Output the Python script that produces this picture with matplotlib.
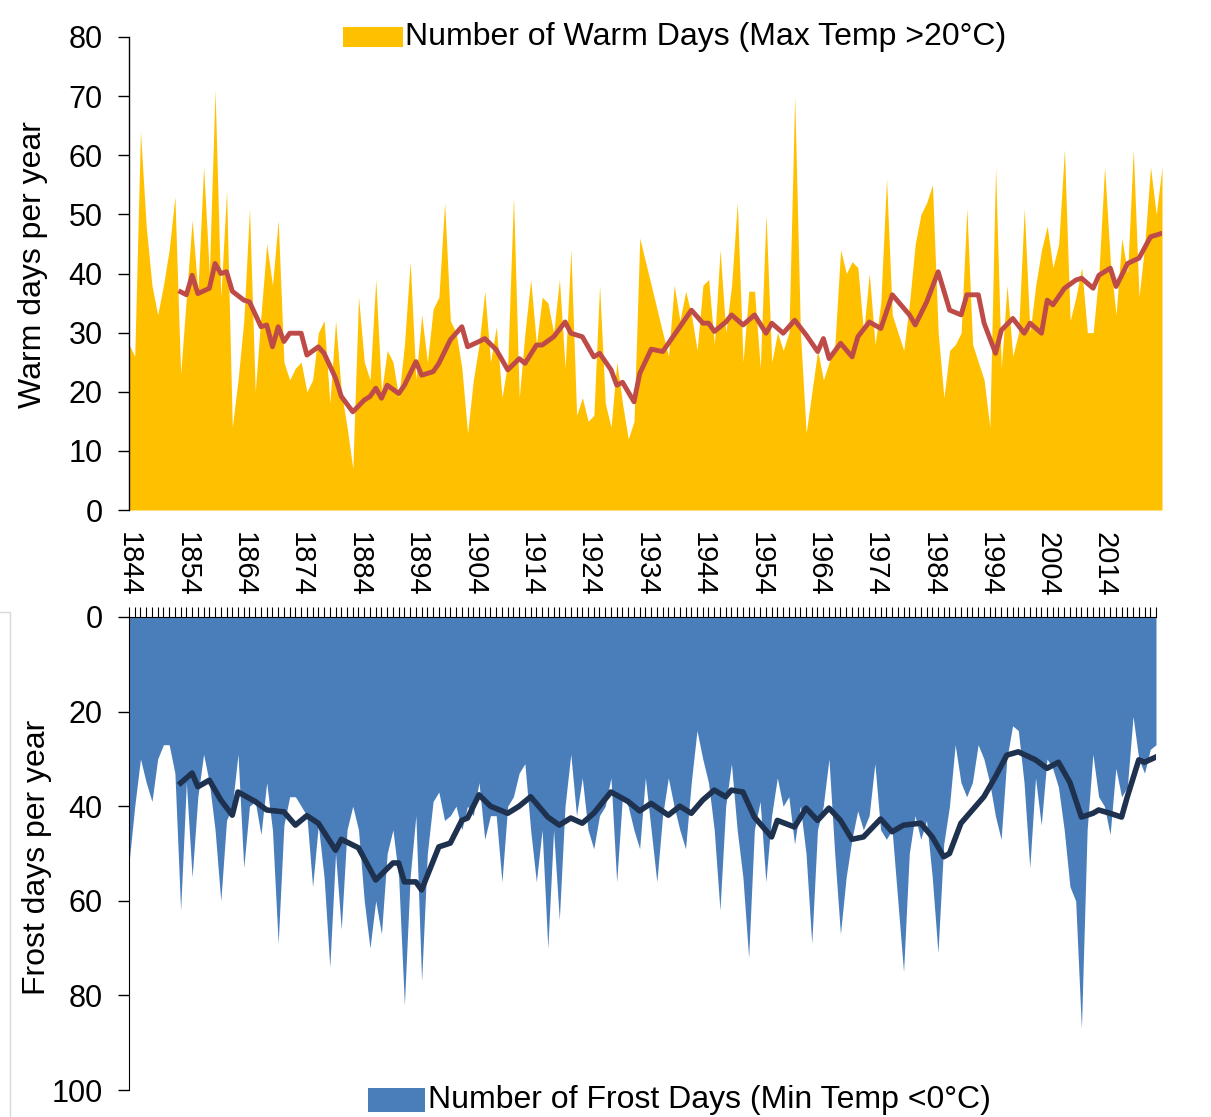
import numpy as np
import matplotlib.pyplot as plt
from matplotlib.patches import Rectangle
from matplotlib.lines import Line2D

plt.rcParams['font.family'] = ['Liberation Sans', 'DejaVu Sans']

first_year = 1844

# warm days per year (max temp > 20C), 1844-2024
warm_days = [28, 26, 64, 48, 38, 33, 38, 44, 53, 23,
             36, 49, 37, 58, 40, 71, 36, 54, 14, 22,
             32, 51, 20, 33, 45, 38, 49, 25, 22, 24,
             25, 20, 22, 30, 32, 18, 32, 20, 14, 7,
             36, 25, 22, 39, 20, 27, 25, 19, 28, 42,
             22, 33, 25, 34, 36, 52, 32, 30, 24, 13,
             22, 28, 37, 25, 31, 19, 25, 53, 19, 30,
             39, 28, 36, 35, 30, 39, 24, 44, 16, 19,
             15, 16, 38, 18, 14, 25, 18, 12, 15, 46,
             42, 38, 34, 30, 26, 38, 32, 37, 33, 27,
             38, 39, 28, 44, 30, 38, 52, 25, 37, 37,
             24, 50, 25, 30, 27, 30, 70, 30, 13, 20,
             27, 22, 25, 28, 44, 40, 42, 41, 30, 40,
             28, 35, 56, 33, 30, 27, 35, 45, 50, 52,
             55, 30, 19, 27, 28, 30, 51, 28, 25, 22,
             14, 58, 24, 38, 26, 30, 51, 30, 38, 44,
             48, 41, 45, 61, 32, 36, 41, 30, 30, 40,
             58, 42, 33, 46, 40, 61, 36, 45, 58, 50,
             58]

# frost days per year (min temp < 0C), 1844-2023
frost_days = [52, 40, 30, 35, 39, 30, 27, 27, 33, 62,
              35, 55, 38, 29, 35, 45, 60, 43, 40, 29,
              53, 40, 39, 46, 35, 45, 69, 44, 38, 38,
              40, 42, 57, 44, 55, 74, 50, 66, 45, 40,
              45, 60, 70, 60, 67, 50, 45, 55, 82, 55,
              42, 77, 50, 39, 37, 43, 42, 40, 45, 40,
              42, 35, 47, 42, 42, 56, 40, 38, 33, 31,
              45, 56, 45, 70, 45, 64, 40, 29, 42, 34,
              45, 49, 42, 40, 34, 56, 38, 40, 45, 49,
              34, 45, 56, 42, 34, 40, 45, 49, 35, 24,
              30, 35, 45, 62, 40, 31, 45, 55, 72, 45,
              39, 56, 42, 34, 40, 38, 48, 40, 50, 69,
              45, 40, 30, 50, 67, 55, 47, 41, 45, 42,
              31, 45, 47, 45, 60, 75, 50, 42, 47, 43,
              55, 71, 48, 40, 27, 35, 38, 35, 27, 30,
              35, 42, 47, 30, 23, 24, 35, 53, 34, 44,
              30, 32, 36, 45, 57, 60, 87, 45, 29, 38,
              40, 46, 32, 38, 36, 21, 30, 33, 28, 27]

# 10-year moving averages
warm_ma_years = [1853, 1854, 1855, 1856, 1858, 1859, 1860, 1861, 1862, 1864,
                 1865, 1867, 1868, 1869, 1870, 1871, 1872, 1874, 1875, 1877,
                 1878, 1880, 1881, 1883, 1885, 1886, 1887, 1888, 1889, 1891,
                 1892, 1894, 1895, 1897, 1898, 1900, 1902, 1903, 1905, 1906,
                 1908, 1910, 1912, 1913, 1915, 1916, 1918, 1920, 1921, 1923,
                 1925, 1926, 1928, 1929, 1930, 1932, 1933, 1935, 1937, 1939,
                 1942, 1944, 1945, 1946, 1948, 1949, 1951, 1953, 1955, 1956,
                 1958, 1960, 1962, 1964, 1965, 1966, 1968, 1970, 1971, 1973,
                 1975, 1977, 1980, 1981, 1983, 1985, 1987, 1989, 1990, 1992,
                 1993, 1995, 1996, 1998, 2000, 2001, 2003, 2004, 2005, 2007,
                 2009, 2010, 2012, 2013, 2015, 2016, 2018, 2020, 2022, 2024]
warm_ma = [36.9, 36.4, 39.7, 36.6, 37.5, 41.7, 40.0, 40.3, 37.0, 35.5,
           35.2, 31.0, 31.3, 27.6, 31.0, 28.5, 29.9, 29.9, 26.2, 27.6,
           26.5, 22.3, 19.2, 16.6, 18.6, 19.2, 20.6, 18.9, 21.1, 19.7,
           21.1, 25.1, 22.8, 23.4, 24.8, 28.8, 31.0, 27.6, 28.5, 29.0,
           27.1, 23.7, 25.6, 24.8, 27.9, 27.9, 29.3, 31.8, 29.9, 29.3,
           25.9, 26.5, 23.7, 21.1, 21.6, 18.3, 23.1, 27.2, 26.8, 29.6,
           33.8, 31.6, 31.6, 30.2, 31.8, 33.0, 31.3, 33.0, 29.9, 31.6,
           29.9, 32.1, 29.6, 26.8, 29.0, 25.6, 28.2, 25.9, 29.3, 31.8,
           30.7, 36.4, 33.0, 31.3, 35.2, 40.3, 33.8, 33.0, 36.4, 36.4,
           31.6, 26.5, 30.4, 32.4, 29.9, 31.6, 29.9, 35.5, 34.7, 37.5,
           38.9, 39.2, 37.5, 39.7, 40.9, 37.8, 41.7, 42.6, 46.2, 46.8]

frost_ma_years = [1853, 1855, 1856, 1858, 1860, 1862, 1863, 1866, 1868, 1871,
                  1873, 1875, 1877, 1880, 1881, 1884, 1887, 1890, 1891, 1892,
                  1894, 1895, 1898, 1900, 1902, 1903, 1905, 1907, 1910, 1912,
                  1914, 1917, 1919, 1921, 1923, 1925, 1928, 1931, 1933, 1935,
                  1938, 1940, 1942, 1944, 1946, 1948, 1949, 1951, 1953, 1956,
                  1957, 1960, 1962, 1964, 1966, 1968, 1970, 1972, 1975, 1977,
                  1979, 1982, 1984, 1986, 1987, 1989, 1991, 1993, 1995, 1997,
                  1999, 2002, 2004, 2006, 2008, 2010, 2012, 2013, 2015, 2017,
                  2018, 2020, 2021, 2023]
frost_ma = [35.1, 33.0, 35.9, 34.5, 38.7, 41.9, 37.0, 39.0, 40.8, 41.2,
            44.0, 42.0, 43.6, 49.3, 47.0, 48.8, 55.6, 52.0, 52.0, 56.0,
            56.0, 57.7, 48.6, 47.8, 43.0, 42.5, 37.6, 40.0, 41.5, 40.0,
            38.0, 42.3, 44.0, 42.5, 43.6, 41.5, 37.0, 39.0, 41.0, 39.4,
            41.9, 40.0, 41.5, 38.7, 36.6, 38.0, 36.6, 37.0, 42.3, 46.5,
            43.0, 44.4, 40.4, 43.0, 40.4, 43.0, 47.0, 46.5, 42.7, 45.4,
            44.0, 43.6, 46.5, 50.7, 50.0, 43.6, 40.8, 38.0, 33.8, 29.2,
            28.5, 30.2, 32.0, 30.7, 35.0, 42.3, 41.5, 40.8, 41.5, 42.3,
            38.0, 30.2, 30.7, 29.6]

warm_years = np.arange(first_year, first_year + len(warm_days))
frost_years = np.arange(first_year, first_year + len(frost_days))

W, H = 1211, 1117
fig = plt.figure(figsize=(W / 100, H / 100), dpi=100)


def box(l, t, r, b):
    return [l / W, 1 - b / H, (r - l) / W, (b - t) / H]


# top panel: warm days
ax1 = fig.add_axes(box(129, 37, 1162, 510))
ax1.fill_between(warm_years, 0, warm_days, color='#FFC000', lw=0)
ax1.plot(warm_ma_years, warm_ma, color='#BE4B48', lw=3.5, solid_joinstyle='round')
ax1.set_xlim(warm_years[0], warm_years[-1])
ax1.set_ylim(0, 80)
ax1.set_yticks(range(0, 81, 10))
ax1.set_xticks(range(first_year, 2024, 10))
ax1.tick_params(axis='y', length=8, width=1, labelsize=22, pad=11)
ax1.tick_params(axis='x', length=0, labelsize=21, pad=16, labelrotation=-90)
for s in ['top', 'right', 'bottom']:
    ax1.spines[s].set_visible(False)
ax1.spines['left'].set_linewidth(1)

# bottom panel: frost days (inverted)
ax2 = fig.add_axes(box(129, 617, 1156, 1090))
ax2.fill_between(frost_years, 0, frost_days, color='#4A7EBB', lw=0)
ax2.plot(frost_ma_years, frost_ma, color='#1E3250', lw=4, solid_joinstyle='round')
ax2.set_xlim(frost_years[0], frost_years[-1])
ax2.set_ylim(100, 0)
ax2.set_yticks(range(0, 101, 20))
ax2.xaxis.tick_top()
ax2.set_xticks(frost_years)
ax2.set_xticklabels([])
ax2.tick_params(axis='x', length=7, width=0.8, direction='out')
ax2.tick_params(axis='y', length=8, width=1, labelsize=22, pad=11)
for s in ['right', 'bottom']:
    ax2.spines[s].set_visible(False)

fig.text(33 / W, 1 - 265 / H, 'Warm days per year', rotation=90,
         ha='center', va='center', fontsize=23)
fig.text(37 / W, 1 - 857 / H, 'Frost days per year', rotation=90,
         ha='center', va='center', fontsize=23)

# legends
fig.add_artist(Rectangle((343 / W, 1 - 47 / H), 60 / W, 20 / H,
                         transform=fig.transFigure, color='#FFC000', lw=0))
fig.text(405 / W, 1 - 37 / H, 'Number of Warm Days (Max Temp >20°C)',
         ha='left', va='center', fontsize=23)
fig.add_artist(Rectangle((368 / W, 1 - 1112 / H), 57 / W, 24 / H,
                         transform=fig.transFigure, color='#4A7EBB', lw=0))
fig.text(428 / W, 1 - 1100 / H, 'Number of Frost Days (Min Temp <0°C)',
         ha='left', va='center', fontsize=23)

# faint border of the lower chart
fig.add_artist(Line2D([0, 10 / W, 10 / W], [1 - 612 / H, 1 - 612 / H, 0],
                      transform=fig.transFigure, color='#D9D9D9', lw=1))

fig.savefig('out.png', dpi=100)
